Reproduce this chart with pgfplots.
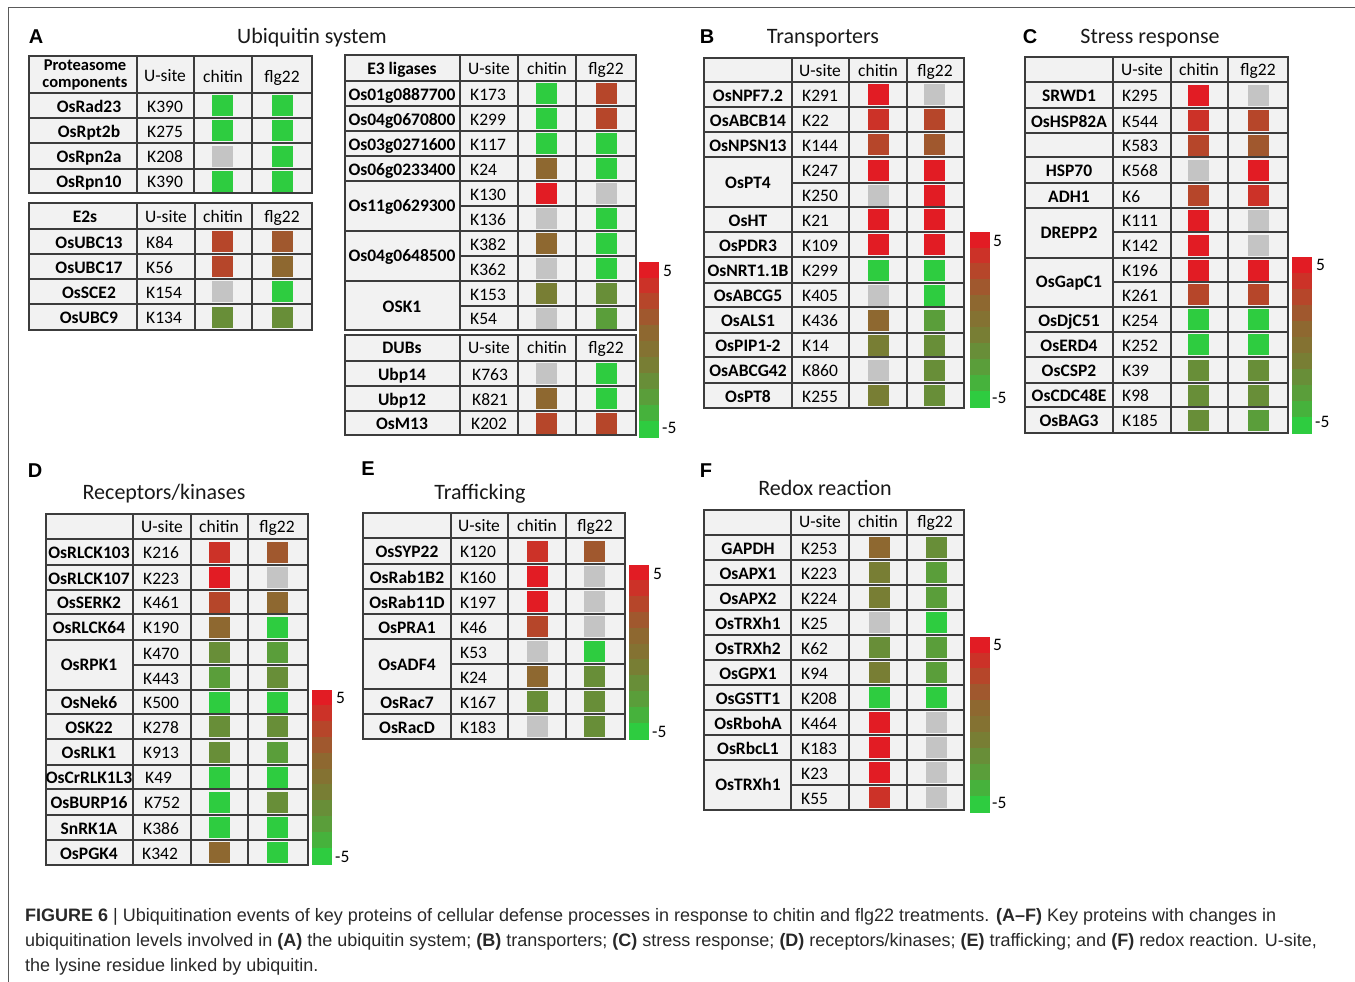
\documentclass[border=0pt]{standalone}
\usepackage{pgfplots}
\pgfplotsset{compat=1.18}
\usepackage{pgfplotstable}
\usepackage{fontspec}
\setmainfont{Carlito}
\newfontfamily\arialf{Liberation Sans}
\definecolor{cellbg}{RGB}{242,242,242}
\definecolor{gridc}{RGB}{60,60,60}
\definecolor{nagray}{RGB}{196,196,196}
\definecolor{captc}{RGB}{40,40,40}
\definecolor{framec}{RGB}{90,90,90}

% values: -5 (green) ... 5 (red); 99 = not detected (grey)
\pgfplotstableread{
y c f
105.5 -5 -5
130.5 -5 -5
156 99 -5
181 -5 -5
}\tProt
\pgfplotstableread{
y c f
241.5 3 2
266.5 3 1
291.5 99 -5
317 -2 -2
}\tEtwo
\pgfplotstableread{
y c f
93.5 -5 3
118.5 -5 3
143.5 -5 -5
168.5 1 -5
193.5 5 99
218.5 99 -5
243.5 1 -5
268.5 99 -5
293.5 -1 -2
318 99 -3
}\tEthree
\pgfplotstableread{
y c f
373.5 99 -5
398.5 1 -5
423 3 3
}\tDub
\pgfplotstableread{
y c f
94.5 5 99
119.5 4 3
144.5 3 2
170 5 5
195 99 5
219.5 5 5
244.5 5 5
270 -5 -5
295 99 -5
320 1 -3
345 -1 -2
370 99 -2
395.5 -1 -2
}\tTrans
\pgfplotstableread{
y c f
95 5 99
120.5 4 3
145 3 2
170 99 5
195.5 3 4
220 5 99
245 5 99
270 5 5
294.5 3 3
319.5 -5 -5
344.5 -5 -5
370 -2 -2
395 -2 -2
420 -2 -3
}\tStress
\pgfplotstableread{
y c f
552 4 2
577.5 5 99
602 3 1
627 1 -5
652.5 -2 -3
677.5 -3 -2
702 -5 -5
726.5 -2 -2
752 -2 -3
777 -5 -5
802 -5 -2
827.5 -5 -5
852.5 1 -5
}\tRec
\pgfplotstableread{
y c f
551 4 2
576.5 5 99
601.5 5 99
626.5 3 99
651.5 99 -5
676.5 1 -2
701.5 -2 -2
726.5 99 -2
}\tTraf
\pgfplotstableread{
y c f
547.5 1 -2
572.5 -1 -3
597.5 -1 -3
622.5 99 -5
647.5 -2 -3
672.5 -1 -3
697.5 -5 -5
722.5 5 99
747.5 5 99
772.5 5 99
797.5 4 99
}\tRedox
\pgfplotstableread{
k v
0 5
1 4
2 3
3 2
4 1
5 0
6 -1
7 -2
8 -3
9 -4
10 -5
}\tCbar

\pgfplotsset{
 csq/.style={scatter, only marks, mark=square*, mark size=10pt, point meta=explicit,
   scatter/use mapped color={draw=mapped color, fill=mapped color}},
 gsq/.style={only marks, mark=square*, mark size=10pt, color=nagray},
 cb/.style={scatter, only marks, mark=square*, mark size=8.1pt, point meta=explicit,
   scatter/use mapped color={draw=mapped color, fill=mapped color}, mark options={xscale=1.17}},
}
\newcommand\sqs[3]{%
 \addplot[gsq, restrict expr to domain={\thisrow{c}}{98:100}] table[x expr=#2, y=y] {#1};
 \addplot[gsq, restrict expr to domain={\thisrow{f}}{98:100}] table[x expr=#3, y=y] {#1};
 \addplot[csq, restrict expr to domain={\thisrow{c}}{-6:6}] table[x expr=#2, y=y, meta=c] {#1};
 \addplot[csq, restrict expr to domain={\thisrow{f}}{-6:6}] table[x expr=#3, y=y, meta=f] {#1};
}
\newcommand\cbar[3]{%
 \addplot[cb] table[x expr=#1, y expr={#2+(\thisrow{k}+0.5)*#3}, meta=v] {\tCbar};
}

\tikzset{
 gl/.style={draw=gridc, line width=1.3pt},
 nm/.style={font=\bfseries\fontsize{17.5}{18}\selectfont, inner sep=0pt, text height=11.3pt, text depth=0pt},
 hd/.style={font=\fontsize{17.5}{18}\selectfont, inner sep=0pt, text height=11.3pt, text depth=0pt},
 us/.style={hd, anchor=west},
 ttl/.style={font=\fontsize{22}{24}\selectfont, inner sep=0pt, text height=14.2pt, text depth=0pt, text=black!90},
 let/.style={font=\arialf\bfseries\fontsize{20}{22}\selectfont, inner sep=0pt, text height=14.3pt, text depth=0pt},
 cbl/.style={hd, anchor=west},
 captxt/.style={anchor=west, font=\arialf\fontsize{18}{20}\selectfont, text=captc, inner sep=0pt, text height=12.9pt, text depth=0pt},
}
\newcommand\tabframe[7]{%
 \fill[cellbg] (#1,#6) rectangle (#5,#7);
 \foreach \xx in {#2,#3,#4} \draw[gl] (\xx,#6) -- (\xx,#7);
 \draw[gl] (#1,#6) rectangle (#5,#7);
}
\newcommand\hlines[3]{\foreach \yy in {#3} \draw[gl] (#1,\yy) -- (#2,\yy);}
\newcommand\hdr[6]{\node[nm] at (#1,#5) {#6}; \node[hd] at (#2,#5) {U-site};
 \node[hd] at (#3,#5) {chitin}; \node[hd] at (#4,#5) {flg22};}
\newcommand\rw[5]{\node[nm] at (#1,#3) {#4}; \node[us] at (#2,#3) {#5};}

\begin{document}
\begin{tikzpicture}
\begin{scope}[x=1pt,y=-1pt,yshift=982pt]
\draw[draw=framec, line width=1pt] (8,982) -- (8,8) -- (1355,8);

% ---------- Panel A ----------
\node[let] at (36,36) {A};
\node[ttl] at (312,36) {Ubiquitin system};
\tabframe{29}{137}{194}{252}{312}{56}{193}
\hlines{29}{312}{93,118,143,169}
\node[font=\bfseries\fontsize{16.5}{16.5}\selectfont, inner sep=0pt, align=center] at (85,75) {Proteasome\\components};
\node[hd] at (165,76) {U-site}; \node[hd] at (223,77) {chitin}; \node[hd] at (282,77) {flg22};
\rw{89}{147}{106.5}{OsRad23}{K390}
\rw{89}{147}{131.5}{OsRpt2b}{K275}
\rw{89}{147}{157}{OsRpn2a}{K208}
\rw{89}{147}{182}{OsRpn10}{K390}

\tabframe{29}{137}{195}{252}{312}{203}{330}
\hlines{29}{312}{229,254,279,304}
\hdr{85}{166}{223}{282}{217}{E2s}
\rw{89}{146}{242.5}{OsUBC13}{K84}
\rw{89}{146}{267.5}{OsUBC17}{K56}
\rw{89}{146}{292.5}{OsSCE2}{K154}
\rw{89}{146}{318}{OsUBC9}{K134}

\tabframe{345}{460}{518}{576}{636}{55}{330}
\hlines{345}{636}{81,106,131,156,181,231,281}
\hlines{460}{636}{206,256,306}
\hdr{402}{489}{547}{606}{69}{E3 ligases}
\rw{402}{470}{94.5}{Os01g0887700}{K173}
\rw{402}{470}{119.5}{Os04g0670800}{K299}
\rw{402}{470}{144.5}{Os03g0271600}{K117}
\rw{402}{470}{169.5}{Os06g0233400}{K24}
\node[nm] at (402,206) {Os11g0629300};
\node[us] at (470,194.5) {K130}; \node[us] at (470,219.5) {K136};
\node[nm] at (402,256) {Os04g0648500};
\node[us] at (470,244.5) {K382}; \node[us] at (470,269.5) {K362};
\node[nm] at (402,307) {OSK1};
\node[us] at (470,294.5) {K153}; \node[us] at (470,319) {K54};

\tabframe{345}{460}{518}{576}{636}{335}{435}
\hlines{345}{636}{361,386,411}
\hdr{402}{489}{547}{606}{348}{DUBs}
\rw{402}{472}{374.5}{Ubp14}{K763}
\rw{402}{472}{399.5}{Ubp12}{K821}
\rw{402}{471}{424}{OsM13}{K202}
\node[cbl] at (663,271) {5}; \node[cbl] at (662,428) {-5};

% ---------- Panel B ----------
\node[let] at (707,36) {B};
\node[ttl] at (823,36) {Transporters};
\tabframe{704}{792}{849}{907}{964}{58}{408}
\hlines{704}{964}{82,107,132,157,207,232,257,283,307,333,357,383}
\hlines{792}{964}{183}
\hdr{748}{820}{878}{935}{71}{}
\rw{748}{802}{95.5}{OsNPF7.2}{K291}
\rw{748}{802}{120.5}{OsABCB14}{K22}
\rw{748}{802}{145.5}{OsNPSN13}{K144}
\node[nm] at (748,183) {OsPT4};
\node[us] at (802,171) {K247}; \node[us] at (802,196) {K250};
\rw{748}{802}{220.5}{OsHT}{K21}
\rw{748}{802}{245.5}{OsPDR3}{K109}
\rw{748}{802}{271}{OsNRT1.1B}{K299}
\rw{748}{802}{296}{OsABCG5}{K405}
\rw{748}{802}{321}{OsALS1}{K436}
\rw{748}{802}{346}{OsPIP1-2}{K14}
\rw{748}{802}{371}{OsABCG42}{K860}
\rw{748}{802}{396.5}{OsPT8}{K255}
\node[cbl] at (993,241) {5}; \node[cbl] at (992,398) {-5};

% ---------- Panel C ----------
\node[let] at (1030,36) {C};
\node[ttl] at (1150,36) {Stress response};
\tabframe{1025}{1113}{1171}{1228}{1288}{57}{433}
\hlines{1025}{1288}{82,108,133,157,183,208,258,307,332,357,383,407}
\hlines{1113}{1288}{232,282}
\hdr{1069}{1142}{1199}{1258}{70}{}
\rw{1069}{1122}{96}{SRWD1}{K295}
\rw{1069}{1122}{121.5}{OsHSP82A}{K544}
\rw{1069}{1122}{146}{}{K583}
\rw{1069}{1122}{171}{HSP70}{K568}
\rw{1069}{1122}{196.5}{ADH1}{K6}
\node[nm] at (1069,233) {DREPP2};
\node[us] at (1122,221) {K111}; \node[us] at (1122,246) {K142};
\node[nm] at (1069,282) {OsGapC1};
\node[us] at (1122,271) {K196}; \node[us] at (1122,295.5) {K261};
\rw{1069}{1122}{320.5}{OsDjC51}{K254}
\rw{1069}{1122}{345.5}{OsERD4}{K252}
\rw{1069}{1122}{371}{OsCSP2}{K39}
\rw{1069}{1122}{396}{OsCDC48E}{K98}
\rw{1069}{1122}{421}{OsBAG3}{K185}
\node[cbl] at (1316,265) {5}; \node[cbl] at (1315,422) {-5};

% ---------- Panel D ----------
\node[let] at (35,470) {D};
\node[ttl] at (164,492) {Receptors/kinases};
\tabframe{46}{133}{191}{248}{308}{514}{865}
\hlines{46}{308}{539,565,590,614,640,690,714,739,765,789,815,840}
\hlines{133}{308}{665}
\hdr{89}{162}{219}{277}{527}{}
\rw{89}{143}{553}{OsRLCK103}{K216}
\rw{89}{143}{578.5}{OsRLCK107}{K223}
\rw{89}{143}{603}{OsSERK2}{K461}
\rw{89}{143}{628}{OsRLCK64}{K190}
\node[nm] at (89,665) {OsRPK1};
\node[us] at (143,653.5) {K470}; \node[us] at (143,678.5) {K443};
\rw{89}{143}{703}{OsNek6}{K500}
\rw{89}{143}{727.5}{OSK22}{K278}
\rw{89}{143}{753}{OsRLK1}{K913}
\rw{89}{145}{778}{OsCrRLK1L3}{K49}
\rw{89}{144}{803}{OsBURP16}{K752}
\rw{89}{143}{828.5}{SnRK1A}{K386}
\rw{89}{142}{853.5}{OsPGK4}{K342}
\node[cbl] at (336,698) {5}; \node[cbl] at (335,857) {-5};

% ---------- Panel E ----------
\node[let] at (368,468) {E};
\node[ttl] at (480,492) {Trafficking};
\tabframe{363}{451}{508}{566}{625}{513}{739}
\hlines{363}{625}{538,564,589,614,639,689,714}
\hlines{451}{625}{664}
\hdr{407}{479}{537}{595}{526}{}
\rw{407}{460}{552}{OsSYP22}{K120}
\rw{407}{460}{577.5}{OsRab1B2}{K160}
\rw{407}{460}{602.5}{OsRab11D}{K197}
\rw{407}{460}{627.5}{OsPRA1}{K46}
\node[nm] at (407,665) {OsADF4};
\node[us] at (460,652.5) {K53}; \node[us] at (460,677.5) {K24};
\rw{407}{460}{702.5}{OsRac7}{K167}
\rw{407}{460}{727.5}{OsRacD}{K183}
\node[cbl] at (653,574) {5}; \node[cbl] at (652,732) {-5};

% ---------- Panel F ----------
\node[let] at (706,470) {F};
\node[ttl] at (825,488) {Redox reaction};
\tabframe{704}{791}{849}{907}{964}{510}{810}
\hlines{704}{964}{535,560,585,610,635,660,685,710,735,760}
\hlines{791}{964}{785}
\hdr{748}{820}{878}{935}{522}{}
\rw{748}{801}{548.5}{GAPDH}{K253}
\rw{748}{801}{573.5}{OsAPX1}{K223}
\rw{748}{801}{598.5}{OsAPX2}{K224}
\rw{748}{801}{623.5}{OsTRXh1}{K25}
\rw{748}{801}{648.5}{OsTRXh2}{K62}
\rw{748}{801}{673.5}{OsGPX1}{K94}
\rw{748}{801}{698.5}{OsGSTT1}{K208}
\rw{748}{801}{723.5}{OsRbohA}{K464}
\rw{748}{801}{748.5}{OsRbcL1}{K183}
\node[nm] at (748,785) {OsTRXh1};
\node[us] at (801,773.5) {K23}; \node[us] at (801,798.5) {K55};
\node[cbl] at (993,645) {5}; \node[cbl] at (992,803) {-5};

% ---------- Caption ----------
\node[captxt] at (25,915) {\textbf{FIGURE 6} | Ubiquitination events of key proteins of cellular defense processes in response to chitin and flg22 treatments. \textbf{(A–F)} Key proteins with changes in};
\node[captxt] at (25,940) {ubiquitination levels involved in \textbf{(A)} the ubiquitin system; \textbf{(B)} transporters; \textbf{(C)} stress response; \textbf{(D)} receptors/kinases; \textbf{(E)} trafficking; and \textbf{(F)} redox reaction. U-site,};
\node[captxt] at (25,965) {the lysine residue linked by ubiquitin.};
\end{scope}

\begin{axis}[at={(0pt,0pt)}, anchor=south west, scale only axis,
  width=1355pt, height=982pt, xmin=0, xmax=1355, ymin=0, ymax=982,
  y dir=reverse, axis lines=none, clip=false,
  colormap={ubq}{rgb255=(46,204,64) rgb255=(70,178,60) rgb255=(90,158,58) rgb255=(104,142,56)
    rgb255=(120,126,52) rgb255=(132,114,50) rgb255=(142,104,48) rgb255=(160,88,46)
    rgb255=(182,70,42) rgb255=(204,50,40) rgb255=(226,28,36)},
  point meta min=-5, point meta max=5]
\sqs{\tProt}{222}{282}
\sqs{\tEtwo}{222}{282}
\sqs{\tEthree}{546}{606}
\sqs{\tDub}{546}{606}
\sqs{\tTrans}{878}{934}
\sqs{\tStress}{1198}{1258}
\sqs{\tRec}{219}{277}
\sqs{\tTraf}{537}{594}
\sqs{\tRedox}{879}{936}
\cbar{648.5}{262}{15.9}
\cbar{979.5}{232}{15.9}
\cbar{1302}{257}{16}
\cbar{322}{690}{15.8}
\cbar{639}{565}{15.8}
\cbar{979.5}{637}{15.9}
\end{axis}
\pgfresetboundingbox
\useasboundingbox (0pt,0pt) rectangle (1355pt,982pt);
\end{tikzpicture}
\end{document}
